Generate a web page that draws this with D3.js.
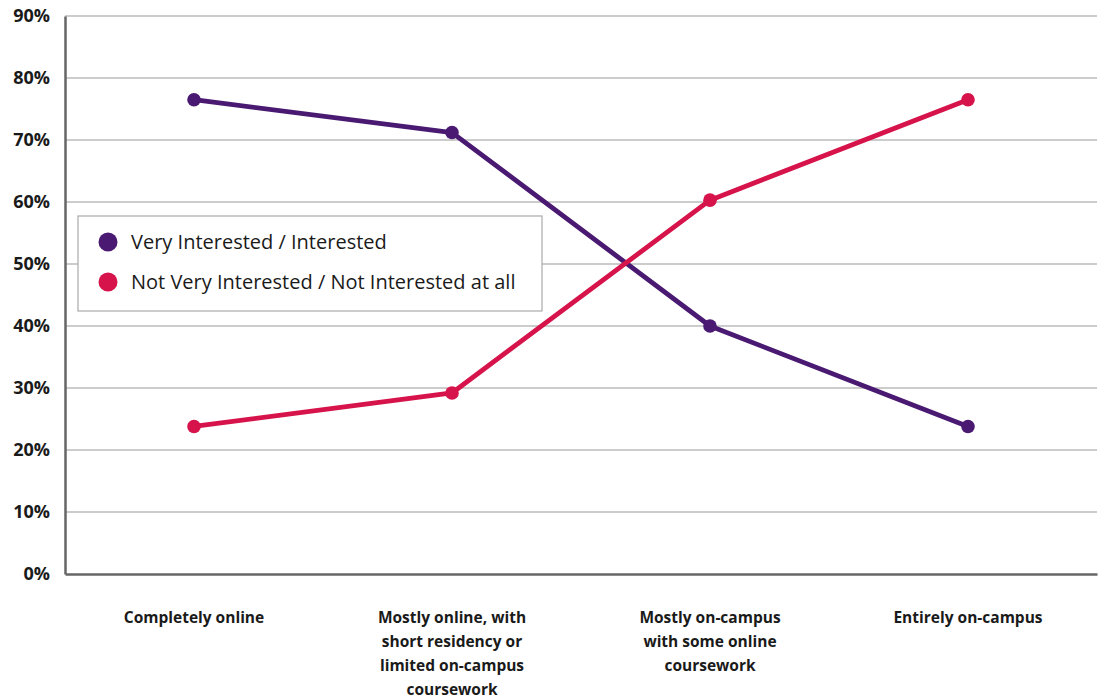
<!DOCTYPE html>
<html>
<head>
<meta charset="utf-8">
<script src="https://cdn.jsdelivr.net/npm/d3@7"></script>
<style>
  html, body { margin: 0; padding: 0; background: #fff; }
  svg { display: block; font-family: "Open Sans", "Noto Sans", sans-serif; }
</style>
</head>
<body>
<svg id="chart" width="1101" height="699"></svg>
<script>
// Delivery format categories (each label split into its display lines)
const categories = [
  ["Completely online"],
  ["Mostly online, with", "short residency or", "limited on-campus", "coursework"],
  ["Mostly on-campus", "with some online", "coursework"],
  ["Entirely on-campus"]
];
const seriesNames = ["Very Interested / Interested", "Not Very Interested / Not Interested at all"];
const interested = [76.5, 71.2, 40.0, 23.8];
const notInterested = [23.8, 29.2, 60.3, 76.5];
const yTicks = [0, 10, 20, 30, 40, 50, 60, 70, 80, 90];
const colors = ["#4a1a72", "#d6134a"];

const svg = d3.select("#chart");
const margin = { left: 65, right: 4, top: 16, bottom: 125 };
const W = 1101, H = 699;

const x = d3.scaleBand()
  .domain(d3.range(categories.length))
  .range([margin.left, W - margin.right])
  .padding(0);
const y = d3.scaleLinear()
  .domain([0, 90])
  .range([H - margin.bottom, margin.top]);

// horizontal gridlines
svg.append("g")
  .selectAll("line")
  .data(yTicks.filter(d => d > 0))
  .join("line")
  .attr("x1", margin.left).attr("x2", W - margin.right)
  .attr("y1", d => y(d)).attr("y2", d => y(d))
  .attr("stroke", "#9a9a9a").attr("stroke-width", 1.2);

// y axis
const yAxis = svg.append("g")
  .attr("transform", `translate(${margin.left},0)`)
  .call(d3.axisLeft(y).tickValues(yTicks).tickFormat(d => d + "%").tickSize(0).tickPadding(15));
yAxis.select(".domain").attr("stroke", "#666").attr("stroke-width", 2.5);
yAxis.selectAll("text")
  .attr("font-size", 18).attr("font-weight", 700).attr("fill", "#1a1a1a")
  .attr("font-family", "'Open Sans', sans-serif");

// x axis baseline
const xAxis = svg.append("g")
  .attr("transform", `translate(0,${y(0)})`)
  .call(d3.axisBottom(x).tickSize(0).tickFormat(""));
xAxis.select(".domain").attr("stroke", "#666").attr("stroke-width", 2.5);

// category labels
const lab = svg.append("g")
  .selectAll("text")
  .data(categories)
  .join("text")
  .attr("x", (d, i) => x(i) + x.bandwidth() / 2)
  .attr("y", y(0) + 49)
  .attr("text-anchor", "middle")
  .attr("font-size", 15.5).attr("font-weight", 700).attr("fill", "#1a1a1a");
lab.selectAll("tspan")
  .data(d => d)
  .join("tspan")
  .attr("x", function () { return this.parentNode.getAttribute("x"); })
  .attr("dy", (d, i) => i === 0 ? 0 : 24)
  .text(d => d);

// series lines and markers
const series = [interested, notInterested];
const line = d3.line()
  .x((d, i) => x(i) + x.bandwidth() / 2)
  .y(d => y(d));

series.forEach((vals, s) => {
  svg.append("path")
    .datum(vals)
    .attr("d", line)
    .attr("fill", "none")
    .attr("stroke", colors[s])
    .attr("stroke-width", 4.8)
    .attr("stroke-linejoin", "round");
  svg.append("g")
    .selectAll("circle")
    .data(vals)
    .join("circle")
    .attr("cx", (d, i) => x(i) + x.bandwidth() / 2)
    .attr("cy", d => y(d))
    .attr("r", 6.8)
    .attr("fill", colors[s]);
});

// legend
const legend = svg.append("g").attr("transform", "translate(78,216)");
legend.append("rect")
  .attr("width", 464).attr("height", 95)
  .attr("fill", "#fff").attr("stroke", "#aaa").attr("stroke-width", 1.2);
const items = legend.selectAll("g.item")
  .data(seriesNames)
  .join("g")
  .attr("class", "item")
  .attr("transform", (d, i) => `translate(0,${26 + i * 40})`);
items.append("circle")
  .attr("cx", 30).attr("cy", 0).attr("r", 9.5)
  .attr("fill", (d, i) => colors[i]);
items.append("text")
  .attr("x", 53).attr("y", 0).attr("dy", "0.35em")
  .attr("font-size", 20).attr("fill", "#1a1a1a")
  .text(d => d);
</script>
</body>
</html>
